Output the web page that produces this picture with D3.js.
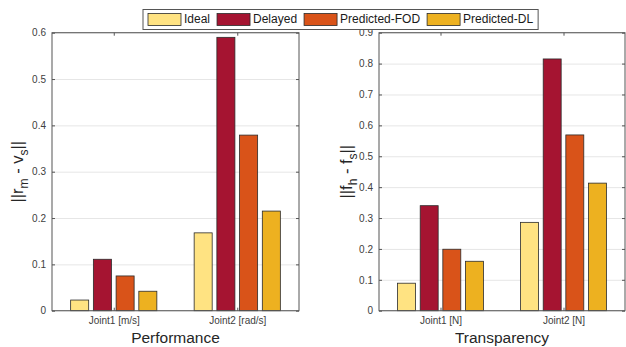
<!DOCTYPE html>
<html>
<head>
<meta charset="utf-8">
<script src="https://cdn.jsdelivr.net/npm/d3@7"></script>
<style>
  body { margin: 0; background: #fff; }
  svg { font-family: "Liberation Sans", Arial, sans-serif; }
</style>
</head>
<body>
<div id="chart"></div>
<script>
// 系列名と色
var seriesNames = ["Ideal", "Delayed", "Predicted-FOD", "Predicted-DL"];
var seriesColors = ["#ffe382", "#a51431", "#d95319", "#edb120"];

// Performance (左)
var perfCategories = ["Joint1 [m/s]", "Joint2 [rad/s]"];
var perfIdeal = [0.023, 0.168];
var perfDelayed = [0.111, 0.590];
var perfFOD = [0.075, 0.379];
var perfDL = [0.042, 0.215];
var perfTicks = [0, 0.1, 0.2, 0.3, 0.4, 0.5, 0.6];

// Transparency (右)
var transCategories = ["Joint1 [N]", "Joint2 [N]"];
var transIdeal = [0.089, 0.286];
var transDelayed = [0.340, 0.815];
var transFOD = [0.199, 0.569];
var transDL = [0.160, 0.413];
var transTicks = [0, 0.1, 0.2, 0.3, 0.4, 0.5, 0.6, 0.7, 0.8, 0.9];

var width = 626, height = 347;
var svg = d3.select("#chart").append("svg")
    .attr("width", width)
    .attr("height", height);

var axisColor = "#555";
var textColor = "#404040";

function drawPanel(opt) {
    var x = d3.scaleLinear().domain([0.5, 2.5]).range([opt.left, opt.right]);
    var y = d3.scaleLinear().domain([0, opt.ymax]).range([opt.bottom, opt.top]);
    var g = svg.append("g");

    // グリッド
    g.append("g")
        .attr("transform", "translate(" + opt.left + ",0)")
        .call(d3.axisLeft(y).tickValues(opt.ticks).tickSize(-(opt.right - opt.left)).tickFormat(""))
        .call(function(s) {
            s.select(".domain").remove();
            s.selectAll("line").attr("stroke", "#e6e6e6").attr("stroke-width", 1);
        });

    // 棒
    var pitch = 0.184, bw = 0.146;
    var rows = [];
    opt.values.forEach(function(vals, si) {
        vals.forEach(function(v, ci) {
            rows.push({ s: si, c: ci + 1, v: v });
        });
    });
    g.append("g").selectAll("rect")
        .data(rows)
        .enter()
        .append("rect")
        .attr("x", function(d) { return x(d.c + (d.s - 1.5) * pitch - bw / 2); })
        .attr("width", function(d) { return x(bw) - x(0); })
        .attr("y", function(d) { return y(d.v); })
        .attr("height", function(d) { return y(0) - y(d.v); })
        .attr("fill", function(d) { return seriesColors[d.s]; })
        .attr("stroke", "#2b2b2b")
        .attr("stroke-width", 0.8);

    // 枠線
    g.append("rect")
        .attr("x", opt.left).attr("y", opt.top)
        .attr("width", opt.right - opt.left).attr("height", opt.bottom - opt.top)
        .attr("fill", "none").attr("stroke", axisColor).attr("stroke-width", 1);

    // Y軸
    g.append("g")
        .attr("transform", "translate(" + opt.left + ",0)")
        .call(d3.axisLeft(y).tickValues(opt.ticks).tickSize(-3).tickPadding(6)
            .tickFormat(function(d) { return d === 0 ? "0" : d3.format(".1f")(d); }))
        .call(function(s) {
            s.select(".domain").remove();
            s.selectAll("line").attr("stroke", axisColor);
            s.selectAll("text").attr("fill", textColor).style("font-size", "10px")
                .style("font-family", "'Liberation Sans', Arial, sans-serif");
        });
    g.append("g")
        .attr("transform", "translate(" + opt.right + ",0)")
        .call(d3.axisRight(y).tickValues(opt.ticks).tickSize(-3).tickFormat(""))
        .call(function(s) {
            s.select(".domain").remove();
            s.selectAll("line").attr("stroke", axisColor);
        });

    // X軸
    g.append("g")
        .attr("transform", "translate(0," + opt.bottom + ")")
        .call(d3.axisBottom(x).tickValues([1, 2]).tickSize(-3).tickPadding(6)
            .tickFormat(function(d) { return opt.categories[d - 1]; }))
        .call(function(s) {
            s.select(".domain").remove();
            s.selectAll("line").attr("stroke", axisColor);
            s.selectAll("text").attr("fill", textColor).style("font-size", "10px")
                .style("font-family", "'Liberation Sans', Arial, sans-serif");
        });
    g.append("g")
        .attr("transform", "translate(0," + opt.top + ")")
        .call(d3.axisTop(x).tickValues([1, 2]).tickSize(-3).tickFormat(""))
        .call(function(s) {
            s.select(".domain").remove();
            s.selectAll("line").attr("stroke", axisColor);
        });

    // タイトル
    g.append("text")
        .attr("x", (opt.left + opt.right) / 2)
        .attr("y", 339)
        .attr("text-anchor", "middle")
        .attr("dominant-baseline", "middle")
        .style("font-size", "15.5px")
        .attr("fill", "#262626")
        .text(opt.title);

    // Y軸ラベル (下付き文字)
    var lab = g.append("text")
        .attr("transform", "translate(" + opt.labelX + "," + ((opt.top + opt.bottom) / 2) + ") rotate(-90)")
        .attr("text-anchor", "middle")
        .style("font-size", "16.5px")
        .attr("fill", "#262626");
    lab.append("tspan").text("||" + opt.ylab[0]);
    lab.append("tspan").attr("dy", 5).style("font-size", "12px").text(opt.ylab[1]);
    lab.append("tspan").attr("dy", -5).text(" - " + opt.ylab[2]);
    lab.append("tspan").attr("dy", 5).style("font-size", "12px").text(opt.ylab[3]);
    lab.append("tspan").attr("dy", -5).text("||");
}

drawPanel({
    left: 52, right: 299, top: 32.7, bottom: 310.7,
    ymax: 0.6, ticks: perfTicks,
    categories: perfCategories,
    values: [perfIdeal, perfDelayed, perfFOD, perfDL],
    title: "Performance",
    labelX: 23,
    ylab: ["r", "m", "v", "s"]
});

drawPanel({
    left: 379, right: 625, top: 32.7, bottom: 310.7,
    ymax: 0.9, ticks: transTicks,
    categories: transCategories,
    values: [transIdeal, transDelayed, transFOD, transDL],
    title: "Transparency",
    labelX: 352,
    ylab: ["f", "h", "f", "s"]
});

// 凡例
var legend = svg.append("g");
var legendBox = legend.append("rect")
    .attr("x", 143).attr("y", 9.5)
    .attr("height", 20)
    .attr("fill", "#fff").attr("stroke", "#555").attr("stroke-width", 1);
var lx = 148;
seriesNames.forEach(function(name, i) {
    legend.append("rect")
        .attr("x", lx).attr("y", 13.5)
        .attr("width", 33).attr("height", 12)
        .attr("fill", seriesColors[i])
        .attr("stroke", "#2b2b2b").attr("stroke-width", 0.8);
    var t = legend.append("text")
        .attr("x", lx + 36).attr("y", 20)
        .attr("dominant-baseline", "middle")
        .style("font-size", "12px")
        .attr("fill", "#1a1a1a")
        .text(name);
    lx = lx + 36 + t.node().getComputedTextLength() + 7;
});
legendBox.attr("width", lx - 2 - 143);
</script>
</body>
</html>
